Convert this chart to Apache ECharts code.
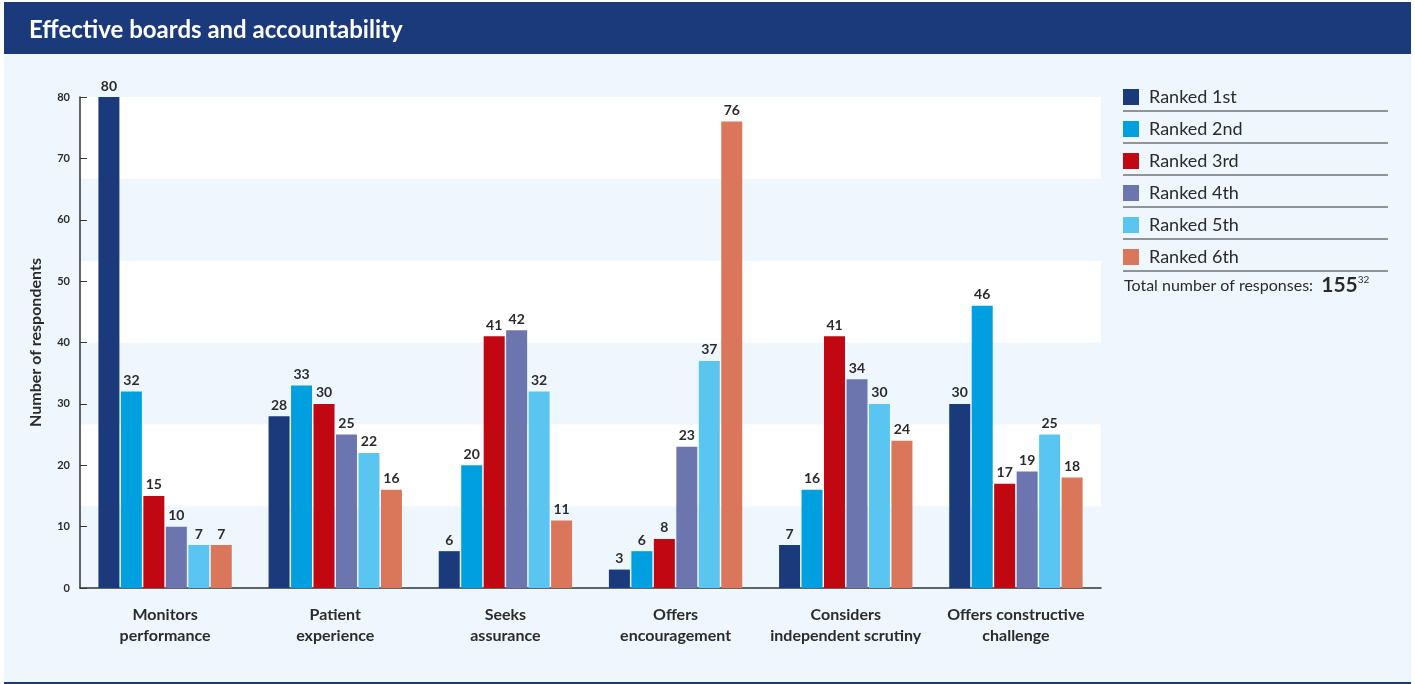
<!DOCTYPE html>
<html>
<head>
<meta charset="utf-8">
<script src="https://cdn.jsdelivr.net/npm/echarts@6/dist/echarts.min.js"></script>
<style>
  html, body { margin: 0; padding: 0; background: #fff; }
  #grafico { width: 1415px; height: 684px; }
</style>
</head>
<body>
<div id="grafico"></div>
<script>
// Datos del gráfico
const categorias = [
    'Monitors\nperformance',
    'Patient\nexperience',
    'Seeks\nassurance',
    'Offers\nencouragement',
    'Considers\nindependent scrutiny',
    'Offers constructive\nchallenge'
];
const nombresSeries = ['Ranked 1st', 'Ranked 2nd', 'Ranked 3rd', 'Ranked 4th', 'Ranked 5th', 'Ranked 6th'];
const ranked1 = [80, 28, 6, 3, 7, 30];
const ranked2 = [32, 33, 20, 6, 16, 46];
const ranked3 = [15, 30, 41, 8, 41, 17];
const ranked4 = [10, 25, 42, 23, 34, 19];
const ranked5 = [7, 22, 32, 37, 30, 25];
const ranked6 = [7, 16, 11, 76, 24, 18];
const totalRespuestas = '155';
const notaTotal = '32';

const colores = ['#1b3a7b', '#009fdf', '#c00712', '#6c75ae', '#5bc5f2', '#da765a'];
const fuente = 'Lato';
const texto = '#2b2b2b';

let valores = [ranked1, ranked2, ranked3, ranked4, ranked5, ranked6];

let series = valores.map((datos, i) => ({
    name: nombresSeries[i],
    type: 'bar',
    data: datos,
    barWidth: 21,
    barGap: '7%',
    itemStyle: { color: colores[i] },
    label: {
        show: true,
        position: 'top',
        distance: 4,
        color: texto,
        fontFamily: fuente,
        fontWeight: 'bold',
        fontSize: 14
    }
}));

// Líneas separadoras de la leyenda
let separadores = [111, 143, 175, 207, 239, 271].map(y => ({
    type: 'line',
    shape: { x1: 1123, y1: y, x2: 1388, y2: y },
    style: { stroke: '#333', lineWidth: 1 }
}));

let grafico = echarts.init(document.getElementById('grafico'));
grafico.setOption({
    backgroundColor: '#eff7fe',
    animation: false,
    title: {
        text: 'Effective boards and accountability',
        left: 24,
        top: 13,
        textStyle: { color: '#fff', fontFamily: fuente, fontWeight: 'bold', fontSize: 24 }
    },
    graphic: [
        { type: 'rect', shape: { x: 0, y: 0, width: 4, height: 684 }, style: { fill: '#fff' } },
        { type: 'rect', shape: { x: 1411, y: 0, width: 4, height: 684 }, style: { fill: '#fff' } },
        { type: 'rect', shape: { x: 0, y: 0, width: 1415, height: 2 }, style: { fill: '#fff' } },
        { type: 'rect', shape: { x: 4, y: 2, width: 1407, height: 52 }, style: { fill: '#1b3a7b' } },
        { type: 'rect', shape: { x: 4, y: 682, width: 1407, height: 2 }, style: { fill: '#1b3a7b' } },
        ...separadores,
        {
            type: 'text',
            left: 1124,
            top: 275,
            style: {
                text: 'Total number of responses:  {b|' + totalRespuestas + '}{s|' + notaTotal + '}',
                fill: texto,
                font: '16px ' + fuente,
                rich: {
                    b: { fontFamily: fuente, fontWeight: 'bold', fontSize: 21, fill: texto },
                    s: { fontFamily: fuente, fontSize: 10, fill: texto, verticalAlign: 'top' }
                }
            }
        }
    ],
    legend: {
        orient: 'vertical',
        left: 1123,
        top: 88,
        padding: 0,
        itemWidth: 16,
        itemHeight: 16,
        itemGap: 14,
        icon: 'rect',
        data: nombresSeries,
        textStyle: { color: texto, fontFamily: fuente, fontSize: 18, padding: [0, 0, 0, 5] }
    },
    grid: { left: 80, right: 314, top: 97, bottom: 96 },
    xAxis: {
        type: 'category',
        data: categorias,
        axisLine: { lineStyle: { color: '#333', width: 1.5 } },
        axisTick: { inside: true, length: 6, lineStyle: { color: '#555' } },
        axisLabel: {
            interval: 0,
            color: texto,
            fontFamily: fuente,
            fontWeight: 'bold',
            fontSize: 16,
            lineHeight: 21,
            margin: 16
        }
    },
    yAxis: [
        {
            type: 'value',
            min: 0,
            max: 80,
            interval: 10,
            name: 'Number of respondents',
            nameLocation: 'middle',
            nameGap: 36,
            nameTextStyle: { color: texto, fontFamily: fuente, fontWeight: 'bold', fontSize: 16 },
            axisLine: { show: true, lineStyle: { color: '#333', width: 1.5 } },
            axisTick: { show: true, inside: true, length: 7, lineStyle: { color: '#333' } },
            axisLabel: { color: texto, fontFamily: fuente, fontWeight: 'bold', fontSize: 11, margin: 10 },
            splitLine: { show: false }
        },
        {
            // eje oculto solo para las franjas de fondo
            type: 'value',
            min: 0,
            max: 6,
            interval: 1,
            position: 'right',
            axisLine: { show: false },
            axisTick: { show: false },
            axisLabel: { show: false },
            splitLine: { show: false },
            splitArea: { show: true, areaStyle: { color: ['#eff7fe', '#ffffff'] } }
        }
    ],
    series: series
});
</script>
</body>
</html>
